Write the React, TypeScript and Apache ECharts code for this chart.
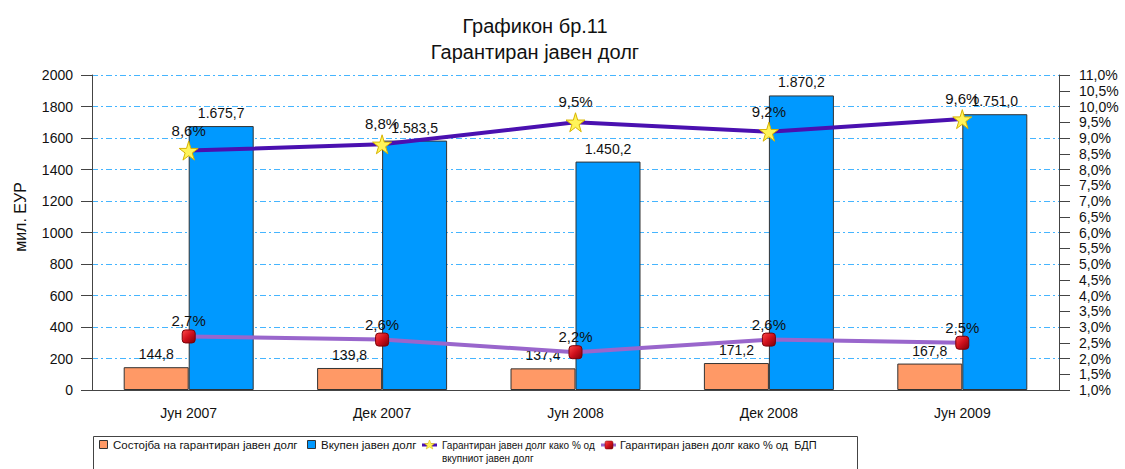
import React, { useEffect, useRef } from "react";
import * as echarts from "echarts";

const categories = ["Јун 2007", "Дек 2007", "Јун 2008", "Дек 2008", "Јун 2009"];
const guaranteedDebt = [144.8, 139.8, 137.4, 171.2, 167.8];
const totalDebt = [1675.7, 1583.5, 1450.2, 1870.2, 1751.0];
const pctOfTotal = [8.6, 8.8, 9.5, 9.2, 9.6];
const pctOfGdp = [2.7, 2.6, 2.2, 2.6, 2.5];

const seriesNames = [
  "Состојба на гарантиран јавен долг",
  "Вкупен јавен долг",
  "Гарантиран јавен долг како % од\nвкупниот јавен долг",
  "Гарантиран јавен долг како % од  БДП",
];

const FONT = "'Liberation Sans', Arial, sans-serif";
const STAR =
  "path://M50,0 L61,35 L98,35 L68,57 L79,91 L50,70 L21,91 L32,57 L2,35 L39,35 Z";

function fmtNum(v: number): string {
  const [i, d] = v.toFixed(1).split(".");
  const withDots = i.replace(/\B(?=(\d{3})+(?!\d))/g, ".");
  return withDots + "," + d;
}
function fmtPct(v: number): string {
  return v.toFixed(1).replace(".", ",") + "%";
}

const redGrad = new echarts.graphic.LinearGradient(0, 0, 1, 1, [
  { offset: 0, color: "#ff4a4a" },
  { offset: 0.5, color: "#d0101c" },
  { offset: 1, color: "#7a0008" },
]);

export default function App() {
  const ref = useRef<HTMLDivElement>(null);
  useEffect(() => {
    if (!ref.current) return;
    const chart = echarts.init(ref.current, null, { renderer: "svg" });
    const legendY = 445;
    chart.setOption({
      animation: false,
      backgroundColor: "#ffffff",
      textStyle: { fontFamily: FONT },
      title: {
        text: "Графикон бр.11\nГарантиран јавен долг",
        left: 530,
        top: 8,
        textAlign: "center",
        textStyle: {
          fontFamily: FONT,
          fontSize: 20,
          fontWeight: "normal",
          lineHeight: 26,
          color: "#111",
        },
      },
      grid: { left: 92, right: 66, top: 75, bottom: 79, containLabel: false },
      xAxis: {
        type: "category",
        data: categories,
        boundaryGap: true,
        axisLine: { lineStyle: { color: "#444", width: 1 } },
        axisTick: { alignWithLabel: true, length: 10, lineStyle: { color: "#444" } },
        axisLabel: { fontSize: 14, color: "#111", margin: 16, fontFamily: FONT },
        splitLine: { show: false },
      },
      yAxis: [
        {
          type: "value",
          min: 0,
          max: 2000,
          interval: 200,
          axisLine: { show: true, lineStyle: { color: "#444" } },
          axisTick: { show: true, length: 11, lineStyle: { color: "#444" } },
          axisLabel: {
            fontSize: 14,
            color: "#111",
            margin: 19,
            fontFamily: FONT,
            formatter: (v: number) => String(v),
          },
          splitLine: {
            show: true,
            lineStyle: { color: "#45b5ff", width: 1, type: [6, 3, 2, 3] },
          },
        },
        {
          type: "value",
          min: 1,
          max: 11,
          interval: 0.5,
          position: "right",
          axisLine: { show: true, lineStyle: { color: "#444" } },
          axisTick: { show: true, length: 11, lineStyle: { color: "#444" } },
          axisLabel: {
            fontSize: 14,
            color: "#111",
            margin: 20,
            fontFamily: FONT,
            formatter: (v: number) => fmtPct(v),
          },
          splitLine: { show: false },
        },
      ],
      series: [
        {
          name: seriesNames[0],
          type: "bar",
          yAxisIndex: 0,
          data: guaranteedDebt,
          barWidth: 65,
          barGap: "0%",
          itemStyle: { color: "#ff9966", borderColor: "#333", borderWidth: 1 },
          label: {
            show: true,
            position: "top",
            distance: 6,
            fontSize: 14,
            color: "#111",
            fontFamily: FONT,
            formatter: (p: any) => fmtNum(p.value),
          },
          z: 2,
        },
        {
          name: seriesNames[1],
          type: "bar",
          yAxisIndex: 0,
          data: totalDebt,
          barWidth: 65,
          barGap: "0%",
          itemStyle: { color: "#0099ff", borderColor: "#333", borderWidth: 1 },
          label: {
            show: true,
            position: "top",
            distance: 6,
            fontSize: 14,
            color: "#111",
            fontFamily: FONT,
            formatter: (p: any) => fmtNum(p.value),
          },
          z: 2,
        },
        {
          name: seriesNames[2],
          type: "line",
          yAxisIndex: 1,
          data: pctOfTotal,
          lineStyle: { color: "#4a10b0", width: 4 },
          symbol: STAR,
          symbolSize: 19,
          itemStyle: { color: "#fff45a", borderColor: "#d8b400", borderWidth: 1 },
          label: {
            show: true,
            position: "top",
            distance: 3,
            fontSize: 15,
            color: "#111",
            fontFamily: FONT,
            formatter: (p: any) => fmtPct(p.value),
          },
          z: 5,
        },
        {
          name: seriesNames[3],
          type: "line",
          yAxisIndex: 1,
          data: pctOfGdp,
          lineStyle: { color: "#9966cc", width: 4 },
          symbol: "roundRect",
          symbolSize: 13,
          itemStyle: { color: redGrad, borderColor: "#7a0008", borderWidth: 1 },
          label: {
            show: true,
            position: "top",
            distance: 1,
            fontSize: 15,
            color: "#111",
            fontFamily: FONT,
            formatter: (p: any) => fmtPct(p.value),
          },
          z: 5,
        },
      ],
      graphic: [
        {
          type: "text",
          x: 20,
          y: 217,
          rotation: Math.PI / 2,
          style: {
            text: "мил. ЕУР",
            fontSize: 16,
            fontFamily: FONT,
            fill: "#111",
            align: "center",
            verticalAlign: "middle",
          },
        },
        {
          type: "rect",
          shape: { x: 93.5, y: 436.5, width: 764, height: 40 },
          style: { fill: "#fff", stroke: "#444", lineWidth: 1 },
          z: 0,
        },
        {
          type: "rect",
          shape: { x: 99.5, y: legendY - 4.5, width: 8, height: 8 },
          style: { fill: "#ff9966", stroke: "#333", lineWidth: 1 },
        },
        {
          type: "text",
          x: 113,
          y: legendY,
          style: {
            text: seriesNames[0],
            fontSize: 11.5,
            fontFamily: FONT,
            fill: "#111",
            verticalAlign: "middle",
          },
        },
        {
          type: "rect",
          shape: { x: 307.5, y: legendY - 4.5, width: 8, height: 8 },
          style: { fill: "#0099ff", stroke: "#333", lineWidth: 1 },
        },
        {
          type: "text",
          x: 321,
          y: legendY,
          style: {
            text: seriesNames[1],
            fontSize: 11.5,
            fontFamily: FONT,
            fill: "#111",
            verticalAlign: "middle",
          },
        },
        {
          type: "line",
          shape: { x1: 422, y1: legendY, x2: 437, y2: legendY },
          style: { stroke: "#4a10b0", lineWidth: 3 },
        },
        {
          type: "polygon",
          shape: {
            points: [
              [429.5, legendY - 5], [431, legendY - 1.5], [434.5, legendY - 1.5],
              [431.7, legendY + 0.7], [432.8, legendY + 4], [429.5, legendY + 2],
              [426.2, legendY + 4], [427.3, legendY + 0.7], [424.5, legendY - 1.5],
              [428, legendY - 1.5],
            ],
          },
          style: { fill: "#fff45a", stroke: "#d8b400", lineWidth: 0.5 },
        },
        {
          type: "text",
          x: 442,
          y: legendY - 6.5,
          style: {
            text: "Гарантиран јавен долг како % од\nвкупниот јавен долг",
            fontSize: 10,
            lineHeight: 13,
            fontFamily: FONT,
            fill: "#111",
            verticalAlign: "top",
          },
        },
        {
          type: "line",
          shape: { x1: 601, y1: legendY, x2: 616, y2: legendY },
          style: { stroke: "#9966cc", lineWidth: 3 },
        },
        {
          type: "rect",
          shape: { x: 605, y: legendY - 4, width: 8, height: 8, r: 1.5 },
          style: { fill: redGrad, stroke: "#7a0008", lineWidth: 0.5 },
        },
        {
          type: "text",
          x: 620,
          y: legendY,
          style: {
            text: seriesNames[3],
            fontSize: 11,
            fontFamily: FONT,
            fill: "#111",
            verticalAlign: "middle",
          },
        },
      ],
    });
    return () => chart.dispose();
  }, []);
  return <div ref={ref} style={{ width: 1125, height: 469, position: "absolute", left: 0, top: 0 }} />;
}
